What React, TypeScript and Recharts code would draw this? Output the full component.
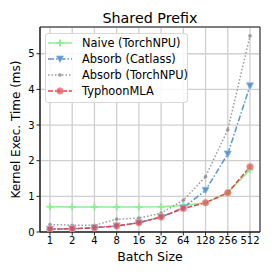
import React from "react";
import {
    LineChart,
    Line,
    XAxis,
    YAxis,
    CartesianGrid,
    ReferenceArea,
} from "recharts";

const batchSizes = ["1", "2", "4", "8", "16", "32", "64", "128", "256", "512"];
const naiveTorchNpu = [0.71, 0.7, 0.7, 0.7, 0.7, 0.71, 0.74, 0.82, 1.1, 1.75];
const absorbCatlass = [0.08, 0.09, 0.12, 0.17, 0.26, 0.42, 0.68, 1.17, 2.19, 4.1];
const absorbTorchNpu = [0.21, 0.19, 0.19, 0.36, 0.39, 0.53, 0.89, 1.55, 2.87, 5.5];
const typhoonMla = [0.08, 0.09, 0.12, 0.17, 0.26, 0.42, 0.66, 0.82, 1.1, 1.83];
const yTicks = [0, 1, 2, 3, 4, 5];

const data = batchSizes.map((b, i) => ({
    idx: i,
    batch: b,
    naive: naiveTorchNpu[i],
    catlass: absorbCatlass[i],
    torchnpu: absorbTorchNpu[i],
    typhoon: typhoonMla[i],
}));

const FONT = "'DejaVu Sans', sans-serif";
const GREEN = "#90ee90";
const BLUE = "#5b95cb";
const GRAY = "#9a9a9a";
const RED = "#e0474c";

const PlusDot = (props: any) => {
    const { cx, cy } = props;
    if (cx == null || cy == null) return null;
    return (
        <path
            d={`M${cx - 3.5},${cy}H${cx + 3.5}M${cx},${cy - 3.5}V${cy + 3.5}`}
            stroke={GREEN}
            strokeWidth={2}
        />
    );
};

const TriDot = (props: any) => {
    const { cx, cy } = props;
    if (cx == null || cy == null) return null;
    return (
        <path
            d={`M${cx - 3.5},${cy - 3}L${cx + 3.5},${cy - 3}L${cx},${cy + 3.5}Z`}
            fill={BLUE}
            stroke="#8fb8de"
            strokeWidth={0.8}
        />
    );
};

const SmallDot = (props: any) => {
    const { cx, cy } = props;
    if (cx == null || cy == null) return null;
    return <circle cx={cx} cy={cy} r={1.8} fill={GRAY} />;
};

const RedDot = (props: any) => {
    const { cx, cy } = props;
    if (cx == null || cy == null) return null;
    return <circle cx={cx} cy={cy} r={3.3} fill={RED} fillOpacity={0.7} stroke="#f09a9d" strokeWidth={0.8} />;
};

const legendItems = [
    { label: "Naive (TorchNPU)", color: GREEN, dash: undefined, Dot: PlusDot },
    { label: "Absorb (Catlass)", color: BLUE, dash: "6 2 1.5 2", Dot: TriDot },
    { label: "Absorb (TorchNPU)", color: GRAY, dash: "1.5 2", Dot: SmallDot },
    { label: "TyphoonMLA", color: RED, dash: "5 2", Dot: RedDot },
];

export default function App() {
    return (
        <div style={{ position: "absolute", left: 0, top: 0, width: 274, height: 274, background: "#fff", fontFamily: FONT }}>
            <div
                style={{
                    position: "absolute",
                    left: 40,
                    width: 220,
                    top: 10,
                    lineHeight: "17px",
                    textAlign: "center",
                    fontSize: 14.3,
                    color: "#000",
                }}
            >
                Shared Prefix
            </div>
            <LineChart
                width={274}
                height={274}
                data={data}
                margin={{ top: 27, right: 14, bottom: 0, left: 0 }}
                style={{ fontFamily: FONT }}
            >
                <CartesianGrid stroke="#cfcfcf" strokeWidth={1.3} />
                <XAxis
                    dataKey="idx"
                    type="number"
                    domain={[-0.45, 9.45]}
                    ticks={batchSizes.map((_, i) => i)}
                    tickFormatter={(i: number) => batchSizes[i]}
                    interval={0}
                    height={42}
                    tickSize={3.5}
                    tickMargin={1}
                    stroke="#222"
                    tick={{ fontSize: 10, fill: "#000" }}
                    label={{ value: "Batch Size", position: "insideBottom", offset: 13, fontSize: 12.5, fill: "#000" }}
                />
                <YAxis
                    type="number"
                    domain={[0, 5.75]}
                    ticks={yTicks}
                    allowDataOverflow
                    width={40}
                    tickSize={3.5}
                    tickMargin={2}
                    stroke="#222"
                    tick={{ fontSize: 10, fill: "#000" }}
                    label={{ value: "Kernel Exec. Time (ms)", angle: -90, position: "center", dx: -4, fontSize: 12, fill: "#000" }}
                />
                <ReferenceArea x1={-0.45} x2={9.45} y1={0} y2={5.75} fill="none" stroke="#222" strokeWidth={1} ifOverflow="visible" />
                <Line dataKey="naive" stroke={GREEN} strokeWidth={1.5} dot={<PlusDot />} isAnimationActive={false} />
                <Line dataKey="torchnpu" stroke={GRAY} strokeWidth={1.5} strokeDasharray="1.5 2" dot={<SmallDot />} isAnimationActive={false} />
                <Line dataKey="catlass" stroke={BLUE} strokeWidth={1.5} strokeDasharray="6 2 1.5 2" dot={<TriDot />} isAnimationActive={false} />
                <Line dataKey="typhoon" stroke={RED} strokeWidth={1.5} strokeDasharray="5 2" dot={<RedDot />} isAnimationActive={false} />
            </LineChart>
            <div
                style={{
                    position: "absolute",
                    left: 45,
                    top: 33,
                    width: 143,
                    height: 70,
                    border: "1px solid #d8d8d8",
                    borderRadius: 3,
                    background: "rgba(255,255,255,0.85)",
                    boxSizing: "border-box",
                }}
            >
                {legendItems.map((it, i) => (
                    <div key={it.label} style={{ position: "absolute", left: 0, top: 0.5 + i * 16.1, height: 16, display: "flex", alignItems: "center" }}>
                        <svg width={36} height={16} style={{ display: "block" }}>
                            <line x1={2} x2={26} y1={8} y2={8} stroke={it.color} strokeWidth={1.5} strokeDasharray={it.dash} />
                            <it.Dot cx={14} cy={8} />
                        </svg>
                        <span style={{ fontSize: 11.4, color: "#000", whiteSpace: "nowrap" }}>{it.label}</span>
                    </div>
                ))}
            </div>
        </div>
    );
}
